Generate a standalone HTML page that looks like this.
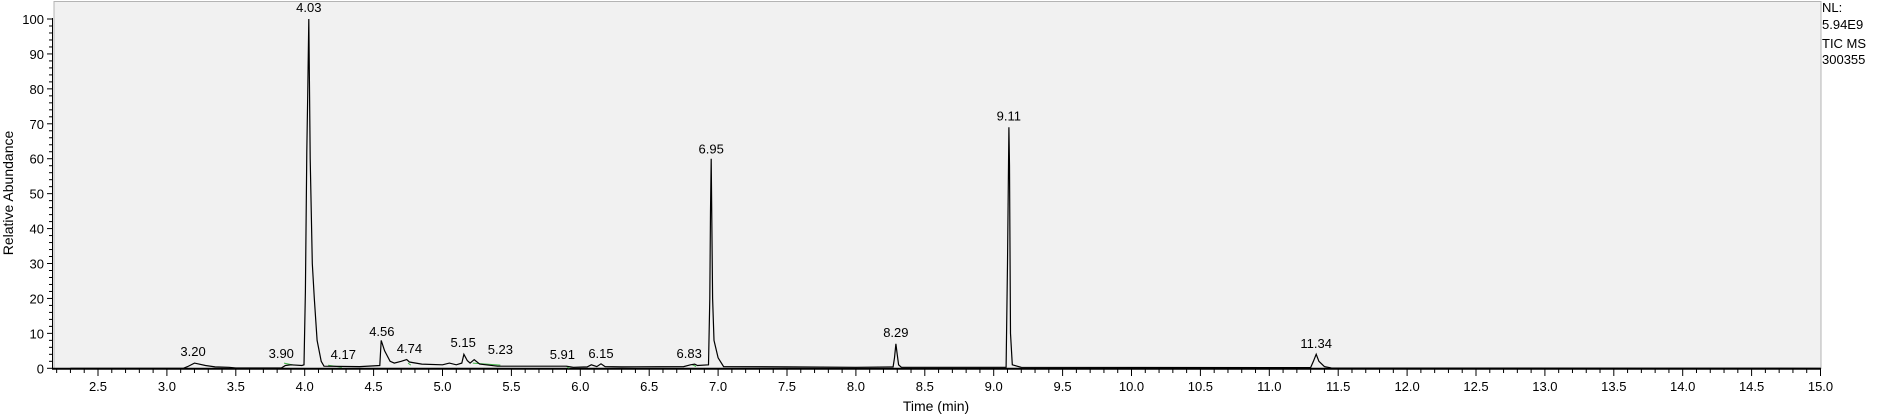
<!DOCTYPE html>
<html><head><meta charset="utf-8"><style>
html,body{margin:0;padding:0;background:#fff;}
svg{display:block;font-family:"Liberation Sans",Arial,sans-serif;}
</style></head><body>
<svg id="chart" width="1881" height="417" xmlns="http://www.w3.org/2000/svg">
<rect x="54" y="1.5" width="1767" height="367" fill="#f1f1f1" stroke="#b4b4b4" stroke-width="1"/>
<g id="axes"></g>
<g id="marks"></g>
<g id="series"></g>
<g id="labels"></g>
<text x="936" y="411" font-size="14" text-anchor="middle">Time (min)</text>
<text transform="translate(13,193) rotate(-90)" font-size="14" text-anchor="middle">Relative Abundance</text>
<g font-size="13">
<text x="1822" y="12">NL:</text>
<text x="1822" y="29">5.94E9</text>
<text x="1822" y="48">TIC  MS</text>
<text x="1822" y="64">300355</text>
</g>
</svg>
<script>
const times = [2.30,3.12,3.15,3.20,3.28,3.35,3.45,3.50,3.83,3.86,3.90,3.98,3.995,4.005,4.015,4.022,4.03,4.04,4.055,4.07,4.09,4.12,4.14,4.40,4.545,4.555,4.58,4.62,4.65,4.70,4.74,4.76,4.85,5.00,5.05,5.10,5.14,5.155,5.18,5.20,5.23,5.27,5.40,5.90,5.95,6.05,6.08,6.12,6.15,6.18,6.30,6.75,6.80,6.83,6.85,6.93,6.94,6.945,6.95,6.96,6.97,7.00,7.04,7.50,8.00,8.27,8.28,8.29,8.30,8.31,8.33,9.09,9.10,9.11,9.115,9.122,9.135,9.20,11.30,11.32,11.34,11.36,11.40,11.45,15.0];
const abundance = [0,0,0.5,1.5,0.8,0.4,0.3,0.1,0.1,0.8,1.0,0.8,1,22,62,78,100,60,30,20,8,2,0.6,0.5,0.8,8,5,2,1.5,2,2.5,1.8,1.2,1,1.5,1,1.5,4,2.2,1.5,2.5,1.2,0.6,0.6,0.3,0.4,1,0.5,1.3,0.5,0.4,0.5,1.0,1.2,0.8,1,20,45,60,20,8,3,0.5,0.4,0.3,0.4,3,7,4,1,0.3,0.3,30,69,58,10,1,0.3,0.2,2,4,2,0.5,0.1,0];
const peakLabels = ["3.20","3.90","4.03","4.17","4.56","4.74","5.15","5.23","5.91","6.15","6.83","6.95","8.29","9.11","11.34"];
const labelTimes = [3.19,3.83,4.03,4.28,4.56,4.76,5.15,5.42,5.87,6.15,6.79,6.95,8.29,9.11,11.34];
const labelLevels = [3.5,3.0,102,2.7,9.2,4.4,6.1,4.1,2.7,3.0,3.0,61.5,9.0,71,5.8];
const markStart = [3.85,4.17,4.75,5.22,5.90,6.81];
const markEnd = [3.92,4.27,4.77,5.42,5.92,6.84];
const markLevel = [1.2,0.6,1.2,1.2,0.3,0.8];
const xTickLabels = ["2.5","3.0","3.5","4.0","4.5","5.0","5.5","6.0","6.5","7.0","7.5","8.0","8.5","9.0","9.5","10.0","10.5","11.0","11.5","12.0","12.5","13.0","13.5","14.0","14.5","15.0"];
const yTickLabels = ["0","10","20","30","40","50","60","70","80","90","100"];

const NS="http://www.w3.org/2000/svg";
const X=t=>98+(t-2.5)*137.8;
const Y=v=>368.3-v*3.493;
function mk(tag,attrs,parent){const e=document.createElementNS(NS,tag);for(const k in attrs)e.setAttribute(k,attrs[k]);parent.appendChild(e);return e;}
const axes=document.getElementById('axes');
let xl=mk('line',{x1:52,x2:1821,y1:368.8,y2:368.8,stroke:'#000','stroke-width':2},axes);


let yl=mk('line',{x1:52.5,x2:52.5,y1:18,y2:369,stroke:'#000','stroke-width':1},axes);


for(let i=22;i<=150;i++){const t=i/10;const major=i%5===0;
 const l=mk('line',{x1:X(t),x2:X(t),y1:369,y2:major?376:373,stroke:'#000','stroke-width':1},axes);
 
 }
xTickLabels.forEach(s=>{const t=parseFloat(s);
 const e=mk('text',{x:X(t),y:391,'font-size':13,'text-anchor':'middle'},axes);e.textContent=s;
 
 });
for(let v=0;v<=100;v+=2){const major=v%10===0;
 const l=mk('line',{x1:major?47:49,x2:52.5,y1:Y(v),y2:Y(v),stroke:'#000','stroke-width':1},axes);
 
 }
yTickLabels.forEach(s=>{const v=parseFloat(s);
 const e=mk('text',{x:44,y:Y(v)+5,'font-size':13,'text-anchor':'end'},axes);e.textContent=s;
 
 });
const mg=document.getElementById('marks');
markStart.forEach((s,i)=>{
 const l=mk('line',{x1:X(s),x2:X(markEnd[i]),y1:Y(markLevel[i])-1,y2:Y(markLevel[i])+1,stroke:'#3cb043','stroke-width':1},mg);
 
 });
const pts=times.map((t,i)=>X(t).toFixed(1)+','+Y(abundance[i]).toFixed(1)).join(' ');
const pl=mk('polyline',{points:pts,fill:'none',stroke:'#000','stroke-width':1.2},document.getElementById('series'));


const lg=document.getElementById('labels');
peakLabels.forEach((s,i)=>{
 const e=mk('text',{x:X(labelTimes[i]),y:Y(labelLevels[i]),'font-size':13,'text-anchor':'middle'},lg);
 e.textContent=s;
 
 });
</script>
</body></html>
